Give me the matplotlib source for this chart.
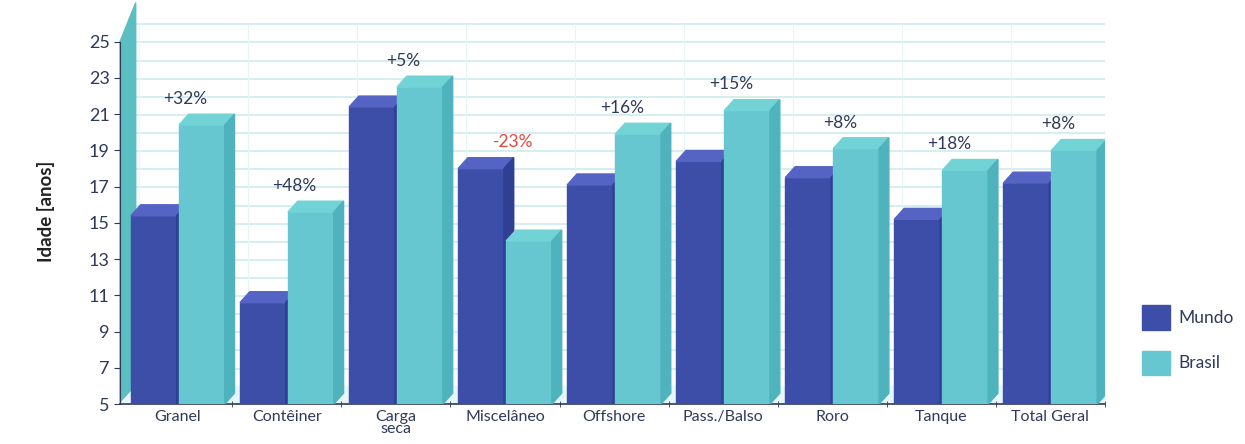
import matplotlib.pyplot as plt
import numpy as np
from matplotlib.patches import Polygon, Rectangle

categories = ["Granel", "Contêiner", "Carga\nseca", "Miscelâneo", "Offshore",
              "Pass./Balso", "Roro", "Tanque", "Total Geral"]
mundo = [15.4, 10.6, 21.4, 18.0, 17.1, 18.4, 17.5, 15.2, 17.2]
brasil = [20.4, 15.6, 22.5, 14.0, 19.9, 21.2, 19.1, 17.9, 19.0]
changes = ["+32%", "+48%", "+5%", "-23%", "+16%", "+15%", "+8%", "+18%", "+8%"]

MUNDO_FRONT = "#3d4ea8"
MUNDO_TOP = "#5563c4"
MUNDO_SIDE = "#2f3f93"
BRASIL_FRONT = "#66c7d0"
BRASIL_TOP = "#72d3d6"
BRASIL_SIDE = "#4fb3bd"
WALL = "#5bbfc2"
GRID = "#cdecee"
TEXT = "#2f3a5a"

BASE = 5
WIDTH = 0.42
OFFSET = 0.22
DX = 0.09
DY = 0.6

plt.rcParams["font.family"] = ["Lato", "DejaVu Sans"]

fig = plt.figure(figsize=(12.45, 4.44), dpi=100)
ax = fig.add_axes([0.0964, 0.09, 0.791, 0.869])
ax.set_xlim(-0.53, 8.5)
ax.set_ylim(5, 26.3)

x = np.arange(len(categories))

# back wall grid (shifted by depth)
for v in range(5, 26):
    ax.plot([-0.53 + DX * 1.6, 8.5], [v + DY * 1.6, v + DY * 1.6],
            color=GRID, lw=1.2, zorder=0)
for b in np.arange(-0.5, 9.0, 1.0):
    ax.plot([b + DX * 1.6, b + DX * 1.6], [5 + DY * 1.6, 25 + DY * 1.6],
            color="#e4f5f6", lw=0.8, zorder=0)

# left wall
ax.add_patch(Polygon([(-0.53, 5), (-0.53 + DX * 1.6, 5 + DY * 1.6),
                      (-0.53 + DX * 1.6, 25 + DY * 1.6 + 1.2), (-0.53, 25)],
                     closed=True, color=WALL, zorder=1, clip_on=False))
# floor
ax.add_patch(Polygon([(-0.53, 5), (8.5, 5), (8.5 + DX * 1.6, 5 + DY * 1.6),
                      (-0.53 + DX * 1.6, 5 + DY * 1.6)],
                     closed=True, color="#e7f7f7", zorder=1))


def bar3d(xc, h, front, top, side):
    left = xc - WIDTH / 2
    right = xc + WIDTH / 2
    ax.add_patch(Rectangle((left, BASE), WIDTH, h - BASE, color=front, zorder=3))
    ax.add_patch(Polygon([(left, h), (right, h), (right + DX, h + DY), (left + DX, h + DY)],
                         closed=True, color=top, zorder=3))
    ax.add_patch(Polygon([(right, BASE), (right + DX, BASE + DY), (right + DX, h + DY), (right, h)],
                         closed=True, color=side, zorder=3))


for i in range(len(categories)):
    bar3d(x[i] - OFFSET, mundo[i], MUNDO_FRONT, MUNDO_TOP, MUNDO_SIDE)
    bar3d(x[i] + OFFSET, brasil[i], BRASIL_FRONT, BRASIL_TOP, BRASIL_SIDE)
    top = max(mundo[i], brasil[i]) + DY
    color = "#e0473f" if changes[i].startswith("-") else TEXT
    ax.text(x[i] + 0.07, top + 0.4, changes[i], ha="center", va="bottom",
            fontsize=12.5, color=color, zorder=5)

ax.set_yticks(range(5, 26, 2))
ax.tick_params(axis="y", labelsize=13, labelcolor=TEXT, length=4, color=TEXT)
ax.set_xticks(x)
ax.set_xticklabels(categories, fontsize=11.5, color=TEXT, linespacing=0.9)
ax.tick_params(axis="x", length=0, pad=4)
ax.set_xticks(np.arange(0.5, 8.6, 1.0), minor=True)
ax.tick_params(axis="x", which="minor", length=5, color=TEXT, direction="inout")

for name in ["top", "right"]:
    ax.spines[name].set_visible(False)
ax.spines["left"].set_bounds(5, 25)
ax.spines["left"].set_color(TEXT)
ax.spines["bottom"].set_color(TEXT)
ax.spines["bottom"].set_linewidth(1.2)
ax.set_ylabel("Idade [anos]", fontsize=13.5, fontweight="bold", color="#222222", labelpad=24)

handles = [Rectangle((0, 0), 1, 1, color=MUNDO_FRONT), Rectangle((0, 0), 1, 1, color=BRASIL_FRONT)]
fig.legend(handles, ["Mundo", "Brasil"], loc="lower left", bbox_to_anchor=(0.905, 0.12),
           frameon=False, fontsize=12.5, handlelength=1.6, handleheight=1.8,
           labelspacing=1.2, handletextpad=0.5, labelcolor=TEXT)

fig.savefig("out.png", dpi=100)
